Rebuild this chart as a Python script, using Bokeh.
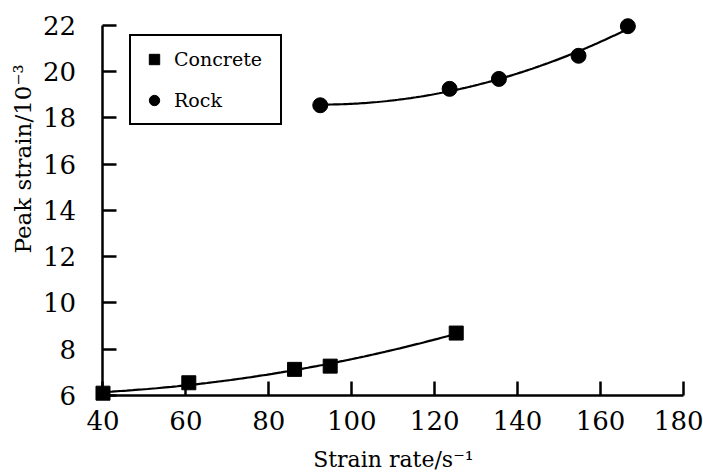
import numpy as np
from math import pi
from bokeh.plotting import figure
from bokeh.models import Range1d, Label, Legend, LegendItem, FixedTicker
from bokeh.embed import file_html
from bokeh.resources import INLINE

# ---- data ----
concrete_rate = [40.0, 60.7, 86.2, 94.8, 125.2]
concrete_strain = [6.10, 6.55, 7.13, 7.27, 8.70]
rock_rate = [92.4, 123.6, 135.5, 154.7, 166.6]
rock_strain = [18.55, 19.26, 19.69, 20.69, 21.97]
x_ticks = [40, 60, 80, 100, 120, 140, 160, 180]
y_ticks = [6, 8, 10, 12, 14, 16, 18, 20, 22]
x_label = "Strain rate/s\u207b\u00b9"
y_label = "Peak strain/10\u207b\u00b3"

FONT = "DejaVu Serif"

p = figure(width=703, height=473,
           x_range=Range1d(15.28, 184.84), y_range=Range1d(2.627, 23.081),
           output_backend="svg", toolbar_location=None,
           min_border_left=0, min_border_right=0,
           min_border_top=0, min_border_bottom=0)
p.outline_line_color = None
p.grid.visible = False
p.background_fill_color = "white"

for ax, bounds, loc, ticks in ((p.xaxis[0], (40, 180), 6, x_ticks),
                               (p.yaxis[0], (6, 22), 40, y_ticks)):
    ax.bounds = bounds
    ax.fixed_location = loc
    ax.ticker = FixedTicker(ticks=ticks)
    ax.axis_line_width = 2.5
    ax.axis_line_color = "black"
    ax.major_tick_in = 14
    ax.major_tick_out = 0
    ax.major_tick_line_width = 2.5
    ax.major_tick_line_color = "black"
    ax.minor_tick_line_color = None
    ax.major_label_text_font = FONT
    ax.major_label_text_font_size = "26px"
    ax.major_label_text_color = "black"

p.xaxis.major_label_standoff = 16
p.yaxis.major_label_standoff = 27

# trend lines (quadratic fit of the data)
cx = np.linspace(min(concrete_rate), max(concrete_rate), 120)
cc = np.polyfit(concrete_rate, concrete_strain, 2)
p.line(cx, np.polyval(cc, cx), line_color="black", line_width=2.2)
rx = np.linspace(min(rock_rate), max(rock_rate), 120)
rc = np.polyfit(rock_rate, rock_strain, 2)
p.line(rx, np.polyval(rc, rx), line_color="black", line_width=2.2)

r_con = p.scatter(concrete_rate, concrete_strain, marker="square", size=14,
                  fill_color="black", line_color="black")
r_rock = p.scatter(rock_rate, rock_strain, marker="circle", size=15,
                   fill_color="black", line_color="black")

legend = Legend(items=[LegendItem(label="Concrete", renderers=[r_con]),
                       LegendItem(label="Rock", renderers=[r_rock])],
                location=(129, 348))
legend.label_text_font = FONT
legend.label_text_font_size = "19px"
legend.label_text_color = "black"
legend.border_line_color = "black"
legend.border_line_alpha = 1.0
legend.border_line_width = 2.5
legend.background_fill_color = "white"
legend.background_fill_alpha = 1
legend.padding = 10
legend.spacing = 15
legend.glyph_width = 26
legend.glyph_height = 26
legend.label_height = 26
legend.label_width = 96
legend.label_standoff = 7
legend.margin = 0
p.add_layout(legend)

p.add_layout(Label(x=90.7, y=3.25, text=x_label, text_align="left",
                   text_baseline="alphabetic", text_font=FONT,
                   text_font_size="22px", text_color="black"))
p.add_layout(Label(x=20.6, y=12.14, text=y_label, angle=pi / 2,
                   text_align="left", text_baseline="alphabetic",
                   text_font=FONT, text_font_size="23px",
                   text_color="black"))

open("out.html", "w").write(file_html(p, INLINE))
